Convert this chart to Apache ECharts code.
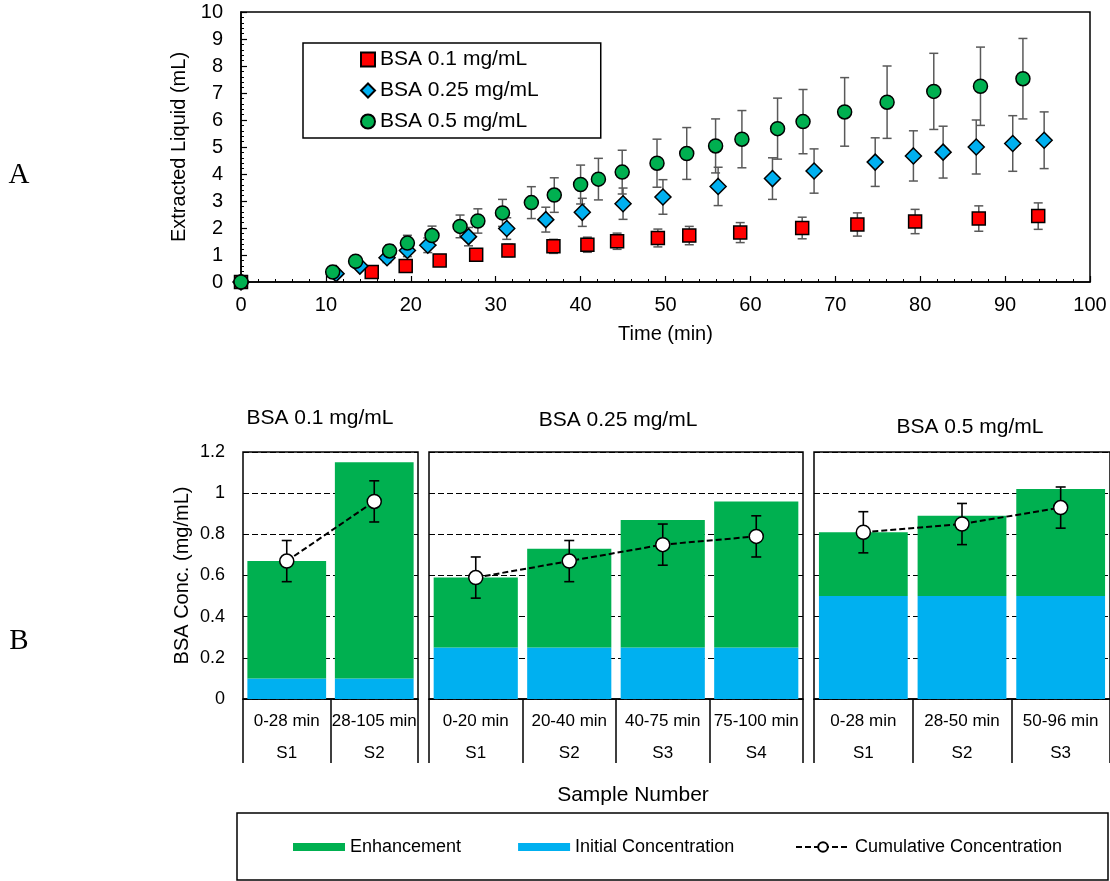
<!DOCTYPE html>
<html><head><meta charset="utf-8">
<script src="https://cdn.jsdelivr.net/npm/echarts@6/dist/echarts.min.js"></script>
<style>html,body{margin:0;padding:0;background:#fff}#c{width:1110px;height:881px}</style>
</head><body><div id="c"></div>
<script>
// ---------- Panel A data ----------
const seriesNamesA = ['BSA 0.1 mg/mL', 'BSA 0.25 mg/mL', 'BSA 0.5 mg/mL'];
const redTime = [0, 15.4, 19.4, 23.4, 27.7, 31.5, 36.8, 40.8, 44.3, 49.1, 52.8, 58.8, 66.1, 72.6, 79.4, 86.9, 93.9];
const redVal  = [0, 0.37, 0.59, 0.80, 1.01, 1.17, 1.32, 1.38, 1.51, 1.63, 1.72, 1.83, 2.00, 2.13, 2.24, 2.35, 2.44];
const redErr  = [0, 0.07, 0.12, 0.16, 0.20, 0.23, 0.26, 0.28, 0.30, 0.33, 0.34, 0.37, 0.40, 0.43, 0.45, 0.47, 0.49];
const blueTime = [0, 11.2, 14.0, 17.2, 19.6, 22.0, 26.8, 31.3, 35.9, 40.2, 45.0, 49.7, 56.2, 62.6, 67.5, 74.7, 79.2, 82.7, 86.6, 90.9, 94.6];
const blueVal  = [0, 0.31, 0.59, 0.90, 1.17, 1.36, 1.68, 1.98, 2.31, 2.58, 2.90, 3.15, 3.54, 3.83, 4.11, 4.44, 4.67, 4.81, 5.00, 5.13, 5.25];
const blueErr  = [0, 0.06, 0.12, 0.18, 0.23, 0.27, 0.34, 0.40, 0.46, 0.52, 0.58, 0.64, 0.71, 0.77, 0.82, 0.90, 0.93, 0.96, 1.00, 1.03, 1.05];
const greenTime = [0, 10.8, 13.5, 17.5, 19.6, 22.5, 25.8, 27.9, 30.8, 34.2, 36.9, 40.0, 42.1, 44.9, 49.0, 52.5, 55.9, 59.0, 63.2, 66.2, 71.1, 76.1, 81.6, 87.1, 92.1];
const greenVal  = [0, 0.37, 0.77, 1.15, 1.44, 1.72, 2.06, 2.26, 2.56, 2.94, 3.22, 3.61, 3.81, 4.07, 4.40, 4.76, 5.04, 5.29, 5.68, 5.94, 6.30, 6.66, 7.06, 7.25, 7.53];
const greenErr  = [0, 0.07, 0.15, 0.23, 0.29, 0.35, 0.42, 0.45, 0.50, 0.59, 0.64, 0.72, 0.77, 0.81, 0.89, 0.96, 1.00, 1.06, 1.13, 1.19, 1.27, 1.34, 1.41, 1.45, 1.49];

// ---------- Panel B data ----------
const panelTitles = ['BSA 0.1 mg/mL', 'BSA 0.25 mg/mL', 'BSA 0.5 mg/mL'];
const p1Ranges = ['0-28 min', '28-105 min'];
const p1Samples = ['S1', 'S2'];
const p1Initial = [0.1, 0.1];
const p1Enh = [0.57, 1.05];
const p1Cum = [0.67, 0.96];
const p1CumErr = [0.1, 0.1];
const p2Ranges = ['0-20 min', '20-40 min', '40-75 min', '75-100 min'];
const p2Samples = ['S1', 'S2', 'S3', 'S4'];
const p2Initial = [0.25, 0.25, 0.25, 0.25];
const p2Enh = [0.34, 0.48, 0.62, 0.71];
const p2Cum = [0.59, 0.67, 0.75, 0.79];
const p2CumErr = [0.1, 0.1, 0.1, 0.1];
const p3Ranges = ['0-28 min', '28-50 min', '50-96 min'];
const p3Samples = ['S1', 'S2', 'S3'];
const p3Initial = [0.5, 0.5, 0.5];
const p3Enh = [0.31, 0.39, 0.52];
const p3Cum = [0.81, 0.85, 0.93];
const p3CumErr = [0.1, 0.1, 0.1];

const FONT = '"Liberation Sans", Arial, sans-serif';
const SERIF = '"Liberation Serif", "Times New Roman", serif';

function zip3(a, b, c) { return a.map((v, i) => [v, b[i], c[i]]); }

function errRender(color, half, lw) {
  return function (params, api) {
    const x = api.value(0), y = api.value(1), e = api.value(2);
    if (!e) return { type: 'group', children: [] };
    const p1 = api.coord([x, y + e]), p2 = api.coord([x, y - e]);
    const st = { stroke: color, lineWidth: lw };
    return { type: 'group', children: [
      { type: 'line', shape: { x1: p1[0], y1: p1[1], x2: p2[0], y2: p2[1] }, style: st },
      { type: 'line', shape: { x1: p1[0] - half, y1: p1[1], x2: p1[0] + half, y2: p1[1] }, style: st },
      { type: 'line', shape: { x1: p2[0] - half, y1: p2[1], x2: p2[0] + half, y2: p2[1] }, style: st }
    ]};
  };
}

const grids = [
  { left: 241, top: 12, width: 849, height: 270, show: true, borderColor: '#000', borderWidth: 1.5 },
  { left: 243, top: 452, width: 175, height: 247, show: true, borderColor: '#000', borderWidth: 1.5 },
  { left: 429, top: 452, width: 374, height: 247, show: true, borderColor: '#000', borderWidth: 1.5 },
  { left: 814, top: 452, width: 296, height: 247, show: true, borderColor: '#000', borderWidth: 1.5 }
];

const xAxes = [{
  type: 'value', gridIndex: 0, min: 0, max: 100, interval: 10,
  name: 'Time (min)', nameLocation: 'middle', nameGap: 42,
  nameTextStyle: { fontFamily: FONT, fontSize: 20, color: '#000' },
  axisLine: { onZero: false, lineStyle: { color: '#000', width: 1.5 } },
  axisTick: { inside: true, length: 6, lineStyle: { color: '#000', width: 1.2 } },
  minorTick: { show: true, splitNumber: 5, length: 3, lineStyle: { color: '#000', width: 1 } },
  splitLine: { show: false },
  axisLabel: { fontFamily: FONT, fontSize: 20, color: '#000', margin: 13 }
}];
const yAxes = [{
  type: 'value', gridIndex: 0, min: 0, max: 10, interval: 1,
  name: 'Extracted Liquid (mL)', nameLocation: 'middle', nameGap: 48,
  nameTextStyle: { fontFamily: FONT, fontSize: 20, color: '#000' },
  axisLine: { onZero: false, lineStyle: { color: '#000', width: 1.5 } },
  axisTick: { inside: true, length: 6, lineStyle: { color: '#000', width: 1.2 } },
  minorTick: { show: true, splitNumber: 5, length: 3, lineStyle: { color: '#000', width: 1 } },
  splitLine: { show: false },
  axisLabel: { fontFamily: FONT, fontSize: 20, color: '#000', margin: 18 }
}];

const panels = [
  { ranges: p1Ranges, samples: p1Samples, initial: p1Initial, enh: p1Enh, cum: p1Cum, err: p1CumErr },
  { ranges: p2Ranges, samples: p2Samples, initial: p2Initial, enh: p2Enh, cum: p2Cum, err: p2CumErr },
  { ranges: p3Ranges, samples: p3Samples, initial: p3Initial, enh: p3Enh, cum: p3Cum, err: p3CumErr }
];

const series = [
  { type: 'custom', name: 'errRed', xAxisIndex: 0, yAxisIndex: 0, z: 2, encode: { x: 0, y: 1 },
    renderItem: errRender('#595959', 4.5, 1.5), data: zip3(redTime, redVal, redErr), silent: true },
  { type: 'custom', name: 'errBlue', xAxisIndex: 0, yAxisIndex: 0, z: 2, encode: { x: 0, y: 1 },
    renderItem: errRender('#595959', 4.5, 1.5), data: zip3(blueTime, blueVal, blueErr), silent: true },
  { type: 'custom', name: 'errGreen', xAxisIndex: 0, yAxisIndex: 0, z: 2, encode: { x: 0, y: 1 },
    renderItem: errRender('#595959', 4.5, 1.5), data: zip3(greenTime, greenVal, greenErr), silent: true },
  { type: 'scatter', name: seriesNamesA[0], xAxisIndex: 0, yAxisIndex: 0, z: 3, symbol: 'rect', symbolSize: 13,
    itemStyle: { color: '#FF0000', borderColor: '#000', borderWidth: 1.5, opacity: 1 },
    data: redTime.map((t, i) => [t, redVal[i]]) },
  { type: 'scatter', name: seriesNamesA[1], xAxisIndex: 0, yAxisIndex: 0, z: 4, symbol: 'diamond', symbolSize: 16,
    itemStyle: { color: '#00B0F0', borderColor: '#000', borderWidth: 1.5, opacity: 1 },
    data: blueTime.map((t, i) => [t, blueVal[i]]) },
  { type: 'scatter', name: seriesNamesA[2], xAxisIndex: 0, yAxisIndex: 0, z: 5, symbol: 'circle', symbolSize: 14,
    itemStyle: { color: '#00B050', borderColor: '#000', borderWidth: 1.5, opacity: 1 },
    data: greenTime.map((t, i) => [t, greenVal[i]]) }
];

panels.forEach((p, i) => {
  const gi = i + 1;
  xAxes.push({
    type: 'category', gridIndex: gi, data: p.ranges,
    axisLine: { lineStyle: { color: '#000', width: 1.5 } },
    axisTick: { show: true, interval: 0, alignWithLabel: false, length: 64, lineStyle: { color: '#000', width: 1.5 } },
    axisLabel: {
      interval: 0, margin: 6, color: '#000',
      formatter: (v, idx) => '{a|' + v + '}\n{b|' + p.samples[idx] + '}',
      rich: { a: { fontFamily: FONT, fontSize: 17, lineHeight: 32, color: '#000' },
              b: { fontFamily: FONT, fontSize: 17, lineHeight: 32, color: '#000' } }
    },
    splitLine: { show: false }
  });
  yAxes.push({
    type: 'value', gridIndex: gi, min: 0, max: 1.2, interval: 0.2,
    name: i === 0 ? 'BSA Conc. (mg/mL)' : '', nameLocation: 'middle', nameGap: 51,
    nameTextStyle: { fontFamily: FONT, fontSize: 20, color: '#000' },
    axisLine: { show: false }, axisTick: { show: false },
    axisLabel: { show: i === 0, fontFamily: FONT, fontSize: 18, color: '#000', margin: 18 },
    splitLine: { show: true, lineStyle: { color: '#000', width: 1, type: [6, 3] } }
  });
  series.push(
    { type: 'bar', name: 'Initial Concentration', xAxisIndex: gi, yAxisIndex: gi, stack: 'p' + i,
      barCategoryGap: '10%', itemStyle: { color: '#00B0F0' }, data: p.initial, z: 2 },
    { type: 'bar', name: 'Enhancement', xAxisIndex: gi, yAxisIndex: gi, stack: 'p' + i,
      barCategoryGap: '10%', itemStyle: { color: '#00B050' }, data: p.enh, z: 2 },
    { type: 'custom', name: 'errCum' + i, xAxisIndex: gi, yAxisIndex: gi, z: 3, encode: { x: 0, y: 1 },
      renderItem: errRender('#000', 5, 1.6), data: p.cum.map((c, k) => [k, c, p.err[k]]), silent: true },
    { type: 'line', name: 'Cumulative Concentration', xAxisIndex: gi, yAxisIndex: gi, z: 4,
      symbol: 'circle', symbolSize: 14, showAllSymbol: true,
      lineStyle: { color: '#000', width: 2, type: [6, 3] },
      itemStyle: { color: '#fff', borderColor: '#000', borderWidth: 1.5 },
      data: p.cum }
  );
});

const titleTexts = [
  { text: panelTitles[0], x: 320, y: 418, font: '21px ' + FONT },
  { text: panelTitles[1], x: 618, y: 420, font: '21px ' + FONT },
  { text: panelTitles[2], x: 970, y: 427, font: '21px ' + FONT },
  { text: 'Sample Number', x: 633, y: 795, font: '21px ' + FONT },
  { text: 'A', x: 19, y: 175, font: '29px ' + SERIF },
  { text: 'B', x: 19, y: 641, font: '29px ' + SERIF }
];

const option = {
  backgroundColor: '#fff',
  animation: false,
  grid: grids,
  xAxis: xAxes,
  yAxis: yAxes,
  series: series,
  legend: [
    { data: seriesNamesA.map((n, i) => ({ name: n, icon: ['rect', 'diamond', 'circle'][i] })),
      orient: 'vertical', left: 303, top: 43, padding: [6, 62, 6, 57], itemGap: 10,
      itemWidth: 14, itemHeight: 14, borderColor: '#000', borderWidth: 1.5, backgroundColor: '#fff',
      textStyle: { fontFamily: FONT, fontSize: 21, lineHeight: 21, color: '#000' }, selectedMode: false },
    { data: [{ name: 'Enhancement', icon: 'rect' }, { name: 'Initial Concentration', icon: 'rect' }],
      orient: 'horizontal', left: 293, top: 838,
      itemGap: 57, itemWidth: 52, itemHeight: 8, padding: 0,
      textStyle: { fontFamily: FONT, fontSize: 18, lineHeight: 18, color: '#000' }, selectedMode: false },
    { data: ['Cumulative Concentration'], orient: 'horizontal', left: 795, top: 838,
      itemWidth: 54, itemHeight: 12, padding: 0,
      textStyle: { fontFamily: FONT, fontSize: 18, lineHeight: 18, color: '#000' }, selectedMode: false }
  ],
  graphic: [
    { type: 'rect', shape: { x: 237, y: 813, width: 871, height: 67 }, style: { fill: 'none', stroke: '#000', lineWidth: 1.5 }, z: -1 }
  ].concat(titleTexts.map(t => ({
    type: 'text', x: t.x, y: t.y,
    style: { text: t.text, font: t.font, fill: '#000', textAlign: 'center', textVerticalAlign: 'middle' }
  })))
};

const chart = echarts.init(document.getElementById('c'), null, { renderer: 'canvas' });
chart.setOption(option);
</script></body></html>
